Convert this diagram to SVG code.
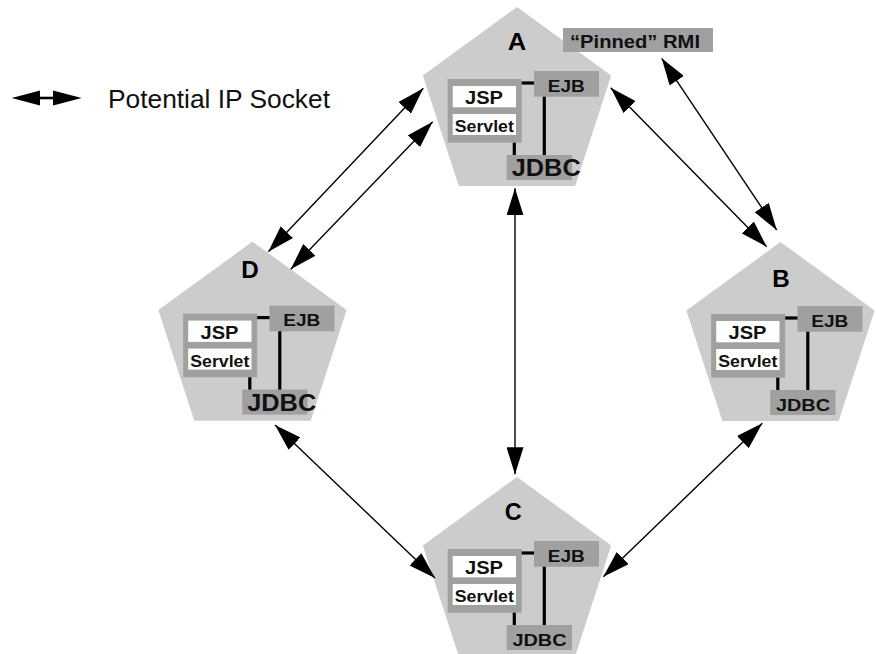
<svg xmlns="http://www.w3.org/2000/svg" width="876" height="654" viewBox="0 0 876 654">
  <style>
    .pent { fill: #cccccc; }
    .box { fill: #a0a0a0; }
    .inner { fill: #ffffff; }
    .link { stroke: #000; stroke-width: 3.2; fill: none; }
    .conn { stroke: #000; stroke-width: 1.4; fill: none; marker-start: url(#head); marker-end: url(#head); }
    text { font-family: "Liberation Sans", Arial, Helvetica, sans-serif; fill: #111; }
    .b { font-weight: bold; text-anchor: middle; }
    .lbl { fill: #000; }
    .jsp { font-size: 18px; }
    .srv { font-size: 16px; }
    .ejb { font-size: 16px; }
    .jdbcL { font-size: 23px; }
    .jdbcS { font-size: 16px; }
  </style>
  <defs>
    <marker id="head" markerUnits="userSpaceOnUse" viewBox="0 0 27 17" refX="27" refY="8.5" markerWidth="27" markerHeight="17" orient="auto-start-reverse">
      <path d="M0,0 L27,8.5 L0,17 Z" fill="#000"/>
    </marker>
    <polygon id="pentagon" class="pent" points="0,-99 94.15,-30.59 58.19,80.09 -58.19,80.09 -94.15,-30.59"/>
    <!-- shared server internals: JSP/Servlet container, EJB and JDBC boxes with wiring -->
    <g id="stack">
      <rect class="box" x="-69.3" y="-27" width="74" height="63.7"/>
      <rect class="inner" x="-64.3" y="-20" width="63.3" height="21.3"/>
      <rect class="inner" x="-64.3" y="8" width="63.3" height="21"/>
      <rect class="box" x="17" y="-35" width="65" height="25.7"/>
      <rect class="box" x="-10.3" y="49" width="65.3" height="25"/>
      <line class="link" x1="4.7" y1="-23" x2="17" y2="-23"/>
      <line class="link" x1="27.3" y1="-9.3" x2="27.3" y2="49"/>
      <line class="link" x1="-2.7" y1="36.7" x2="-2.7" y2="49"/>
      <text class="b jsp" x="-33" y="-1.7" textLength="38" lengthAdjust="spacingAndGlyphs">JSP</text>
      <text class="b srv" x="-32.7" y="26.3" textLength="59" lengthAdjust="spacingAndGlyphs">Servlet</text>
      <text class="b ejb" x="49.3" y="-14.3" textLength="37" lengthAdjust="spacingAndGlyphs">EJB</text>
    </g>
  </defs>

  <!-- legend -->
  <g id="legend">
    <polygon points="11.7,98 40,90.5 40,105.5" fill="#000"/>
    <polygon points="81.7,98 53,90.5 53,105.5" fill="#000"/>
    <line x1="39" y1="98" x2="54" y2="98" stroke="#000" stroke-width="2.6"/>
    <text x="108" y="108.3" font-size="25" textLength="222" lengthAdjust="spacingAndGlyphs">Potential IP Socket</text>
  </g>

  <!-- server A -->
  <g id="nodeA" transform="translate(517,106)">
    <use href="#pentagon"/>
    <use href="#stack"/>
    <text class="b jdbcL" x="29.2" y="70" textLength="69" lengthAdjust="spacingAndGlyphs">JDBC</text>
    <text class="b lbl" font-size="23" x="0" y="-56" textLength="18.5" lengthAdjust="spacingAndGlyphs">A</text>
  </g>

  <!-- pinned RMI tag -->
  <g id="pinnedRMI">
    <rect class="box" x="563" y="28" width="150" height="24"/>
    <text class="b" x="635" y="48.3" font-size="18" textLength="130" lengthAdjust="spacingAndGlyphs">“Pinned” RMI</text>
  </g>

  <!-- server D -->
  <g id="nodeD" transform="translate(252.5,340.6)">
    <use href="#pentagon"/>
    <use href="#stack"/>
    <text class="b jdbcL" x="29.2" y="70" textLength="69" lengthAdjust="spacingAndGlyphs">JDBC</text>
    <text class="b lbl" font-size="23" x="-2.5" y="-62.3" textLength="17.5" lengthAdjust="spacingAndGlyphs">D</text>
  </g>

  <!-- server B -->
  <g id="nodeB" transform="translate(780.5,341)">
    <use href="#pentagon"/>
    <use href="#stack"/>
    <text class="b jdbcS" x="22.5" y="69.7" textLength="54" lengthAdjust="spacingAndGlyphs">JDBC</text>
    <text class="b lbl" font-size="23" x="0.5" y="-54.3" textLength="17.5" lengthAdjust="spacingAndGlyphs">B</text>
  </g>

  <!-- server C -->
  <g id="nodeC" transform="translate(517,576)">
    <use href="#pentagon"/>
    <use href="#stack"/>
    <text class="b jdbcS" x="22.5" y="69.7" textLength="54" lengthAdjust="spacingAndGlyphs">JDBC</text>
    <text class="b lbl" font-size="23" x="-3.7" y="-56" textLength="17" lengthAdjust="spacingAndGlyphs">C</text>
  </g>

  <!-- socket connections -->
  <g id="connectors">
    <line class="conn" x1="423.3" y1="88.3" x2="268.3" y2="251.7"/>
    <line class="conn" x1="432.7" y1="121.7" x2="290.7" y2="269.3"/>
    <line class="conn" x1="515" y1="188.3" x2="515" y2="474.3"/>
    <line class="conn" x1="610.7" y1="87.7" x2="766.7" y2="246.7"/>
    <line class="conn" x1="661.7" y1="58.3" x2="776.7" y2="230"/>
    <line class="conn" x1="275" y1="425" x2="435" y2="578"/>
    <line class="conn" x1="762.3" y1="423.3" x2="603.3" y2="576.7"/>
  </g>
</svg>
